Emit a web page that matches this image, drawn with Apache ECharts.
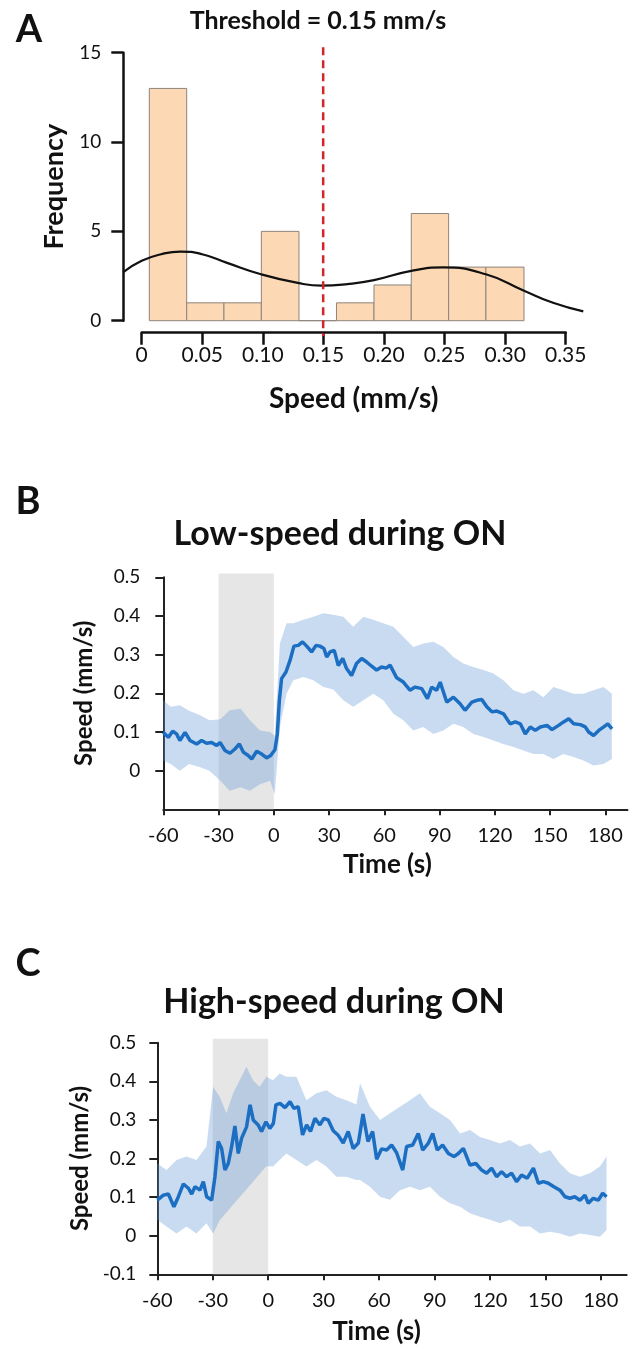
<!DOCTYPE html>
<html>
<head>
<meta charset="utf-8">
<script src="https://cdn.jsdelivr.net/npm/echarts/dist/echarts.min.js"></script>
<style>
  html, body { margin: 0; padding: 0; background: #fff; }
  #chart { width: 629px; height: 1353px; }
</style>
</head>
<body>
<div id="chart"></div>
<script>
// ---- panel A: speed histogram ----
const binEdges = [0.0063, 0.0372, 0.068, 0.0989, 0.130, 0.161, 0.192, 0.2228, 0.2537, 0.2845, 0.316];
const binCounts = [13, 1, 1, 5, 0, 1, 2, 6, 3, 3];
const curveX = [-0.0152, 0, 0.016, 0.032, 0.05, 0.07, 0.0986, 0.13, 0.149, 0.17, 0.192, 0.2228, 0.249, 0.2845, 0.316, 0.34, 0.365];
const curveY = [2.72, 3.35, 3.72, 3.87, 3.72, 3.25, 2.6, 2.1, 1.96, 2.05, 2.27, 2.79, 2.98, 2.6, 1.68, 1.0, 0.52];
const thresholdX = 0.15;
const thresholdYs = [15.3, -0.85];
const speedTicks = [0, 0.05, 0.10, 0.15, 0.20, 0.25, 0.30, 0.35];
const speedTickLabels = ['0', '0.05', '0.10', '0.15', '0.20', '0.25', '0.30', '0.35'];

// ---- panels B / C: time courses ----
const timeTicks = [-60, -30, 0, 30, 60, 90, 120, 150, 180];
const lowSpeedTicks = [0, 0.1, 0.2, 0.3, 0.4, 0.5];
const shadeRange = [-30, 0];
const shadeTop = 0.51;

const lowTime = [-60,-57.3,-54.9,-52.8,-51,-48.2,-45.5,-41.9,-39.2,-36.5,-33.8,-31,-29.2,-26.5,-23.8,-21.1,-18.7,-16.6,-13.9,-12,-9.3,-6.6,-3.9,-1.7,0.6,1.9,3,4.2,6.6,8.8,10.9,13.3,15.6,18.2,20.5,22.9,25,27.2,28.7,30.5,32.8,35,37.4,39.5,42.2,44.9,47.7,50.4,53.1,55.8,58.5,61,63.1,66.7,70.3,73.9,76.7,80.3,83.4,85.7,88.4,90.3,93.9,97.5,101.1,103.8,107.5,110.2,112.9,115.6,118.4,121.1,124.7,128.3,131.1,133.8,136.5,139.2,141.9,144.7,148.3,151,154.6,157.3,160.1,162.8,166.4,169.1,170.9,173.6,176.4,179.1,181.3,183.6];
const lowMean = [0.099,0.086,0.102,0.095,0.078,0.099,0.078,0.069,0.078,0.071,0.073,0.065,0.073,0.052,0.045,0.056,0.069,0.048,0.039,0.030,0.050,0.043,0.033,0.039,0.054,0.095,0.181,0.238,0.255,0.285,0.322,0.324,0.333,0.320,0.307,0.324,0.322,0.316,0.294,0.307,0.311,0.272,0.290,0.264,0.246,0.277,0.290,0.281,0.270,0.260,0.268,0.265,0.273,0.240,0.229,0.208,0.216,0.212,0.186,0.216,0.208,0.229,0.177,0.190,0.173,0.156,0.177,0.182,0.184,0.165,0.152,0.154,0.147,0.121,0.126,0.121,0.095,0.113,0.104,0.113,0.117,0.106,0.117,0.126,0.134,0.121,0.119,0.113,0.100,0.091,0.104,0.113,0.121,0.108];
const lowBandTime = [-60,-56,-51,-46,-40,-35,-29,-24,-18,-13,-7.5,-2,0.5,3.3,6.9,10.6,16,21.4,26.9,32.3,37.7,43.1,48.6,54,59.4,64.9,70.3,75.7,81.2,86.6,92,97.5,102.9,108.3,113.8,119.2,124.6,130.1,135.5,140.9,146.4,151.8,157.2,162.7,168.1,173.5,179,183.5];
const lowBandUpper = [0.182,0.165,0.169,0.155,0.143,0.130,0.133,0.156,0.160,0.130,0.104,0.100,0.090,0.329,0.381,0.381,0.390,0.398,0.407,0.403,0.398,0.372,0.398,0.390,0.381,0.372,0.346,0.320,0.329,0.333,0.320,0.294,0.277,0.268,0.260,0.251,0.234,0.208,0.199,0.208,0.190,0.216,0.208,0.199,0.199,0.208,0.216,0.199];
const lowBandLower = [0.026,0.017,0,0.017,0.009,0,-0.026,-0.052,-0.043,-0.052,-0.035,-0.026,-0.061,0.113,0.199,0.234,0.242,0.234,0.216,0.210,0.182,0.165,0.182,0.199,0.182,0.147,0.130,0.104,0.113,0.095,0.104,0.121,0.113,0.095,0.087,0.078,0.069,0.061,0.052,0.043,0.043,0.030,0.043,0.035,0.026,0.013,0.017,0.030];

const highTime = [-60,-56.7,-54,-51,-48.6,-45.9,-43.2,-41.4,-39.6,-36.9,-35.1,-33.3,-30.6,-28.8,-27,-25.2,-23.4,-21.6,-19.8,-18,-16.2,-14.4,-11.7,-9.8,-8.1,-5.4,-3.6,-1.2,0.9,2.8,4.2,6.4,9.1,11.8,13.9,16.3,18.6,20.8,22.9,25.3,28,30.1,32.5,35.2,37.9,40.6,43.3,46,48.8,51.3,54,56.5,58.7,61.4,64.1,66.8,69.5,72.8,74.9,78.2,81.2,83.6,86.6,89,91.5,94.4,97.5,100.5,102.9,105.6,109.2,112.4,115.5,118.2,120.9,123.6,126.3,129,131.7,134.4,137.1,140.2,143.5,146.2,148.9,151.6,154.6,157.9,160.6,163.3,165.9,168.7,171.4,173.2,175.9,178.6,181,183.1];
const highMean = [0.092,0.105,0.108,0.075,0.101,0.134,0.123,0.108,0.127,0.118,0.140,0.101,0.092,0.153,0.244,0.226,0.170,0.187,0.230,0.284,0.213,0.252,0.282,0.339,0.300,0.287,0.270,0.295,0.278,0.291,0.339,0.343,0.332,0.347,0.330,0.334,0.261,0.287,0.270,0.304,0.287,0.304,0.300,0.272,0.260,0.240,0.270,0.226,0.240,0.315,0.244,0.270,0.198,0.225,0.222,0.235,0.215,0.170,0.231,0.235,0.265,0.222,0.239,0.265,0.222,0.235,0.213,0.205,0.213,0.226,0.183,0.187,0.170,0.162,0.175,0.153,0.166,0.153,0.162,0.140,0.157,0.149,0.175,0.136,0.140,0.136,0.127,0.118,0.101,0.097,0.101,0.092,0.105,0.084,0.097,0.092,0.110,0.101];
const highBandTime = [-60,-55,-49.6,-44.2,-38.8,-33.4,-29.8,-26.2,-22.6,-19,-15.4,-11.8,-8.2,-4.6,-1,2.6,6.2,9.8,15.3,20.7,26.1,31.5,36.9,42.3,47.7,49.7,55.1,60.5,65.9,71.3,76.7,82.1,87.5,93,98.4,103.8,109.2,114.6,120,125.4,130.8,136.2,141.7,147.1,152.5,157.9,163.3,168.7,174.1,179.5,183.1];
const highBandUpper = [0.187,0.170,0.196,0.205,0.196,0.231,0.386,0.360,0.317,0.369,0.403,0.438,0.403,0.386,0.412,0.403,0.420,0.412,0.412,0.351,0.369,0.377,0.360,0.351,0.340,0.395,0.334,0.300,0.317,0.334,0.351,0.369,0.334,0.317,0.300,0.265,0.274,0.256,0.248,0.239,0.248,0.231,0.239,0.213,0.222,0.187,0.162,0.153,0.162,0.179,0.205];
const highBandLower = [0.041,0.024,0.006,0.024,0.006,0.032,0.006,0.040,0.060,0.080,0.100,0.120,0.140,0.160,0.180,0.179,0.196,0.213,0.196,0.179,0.196,0.179,0.153,0.153,0.144,0.144,0.127,0.101,0.093,0.118,0.127,0.118,0.127,0.101,0.084,0.075,0.058,0.049,0.041,0.032,0.041,0.024,0.024,0.006,0.010,0.006,-0.003,0.006,0.002,-0.003,0.015];

const FONT = 'Lato';
const INK = '#111';
const zip = (xs, ys) => xs.map((x, i) => [x, ys[i]]);

const chart = echarts.init(document.getElementById('chart'), null, { renderer: 'canvas' });

// shaded "ON" window, drawn through the axes
const shadeSeries = (axisIndex, yMin) => ({
    type: 'custom',
    xAxisIndex: axisIndex, yAxisIndex: axisIndex,
    silent: true, z: 1,
    data: [[shadeRange[0], shadeRange[1]]],
    encode: { x: [0, 1] },
    renderItem: (params, api) => {
        const p0 = api.coord([api.value(0), shadeTop]);
        const p1 = api.coord([api.value(1), yMin]);
        return {
            type: 'rect',
            shape: { x: p0[0], y: p0[1], width: p1[0] - p0[0], height: p1[1] - p0[1] },
            style: { fill: '#e6e6e6' }
        };
    }
});

// mean +/- error band as one polygon
const bandSeries = (axisIndex, times, upper, lower) => ({
    type: 'custom',
    xAxisIndex: axisIndex, yAxisIndex: axisIndex,
    silent: true, z: 2,
    data: [[times[0], lower[0]]],
    renderItem: (params, api) => {
        const pts = [];
        times.forEach((t, i) => pts.push(api.coord([t, upper[i]])));
        for (let i = times.length - 1; i >= 0; i--) pts.push(api.coord([times[i], lower[i]]));
        return {
            type: 'polygon',
            shape: { points: pts },
            style: { fill: 'rgba(105,155,215,0.36)' }
        };
    }
});

const meanSeries = (axisIndex, data) => ({
    type: 'line',
    xAxisIndex: axisIndex, yAxisIndex: axisIndex,
    data: data, showSymbol: false, z: 3, silent: true,
    lineStyle: { color: '#1b6ec2', width: 3.5 }
});

const timeXAxis = (gridIndex, max, namePad, nameGap) => ({
    type: 'value', gridIndex, min: -60, max,
    axisLine: { onZero: false, lineStyle: { color: '#222', width: 2 } },
    axisTick: { length: 6, lineStyle: { color: '#222', width: 2 }, customValues: timeTicks },
    axisLabel: { customValues: timeTicks, margin: 16, fontSize: 20, fontFamily: FONT, color: INK },
    splitLine: { show: false },
    name: 'Time (s)', nameLocation: 'middle', nameGap,
    nameTextStyle: { fontSize: 26, fontWeight: 'bold', fontFamily: FONT, color: INK, padding: [0, namePad, 0, 0] }
});

const speedYAxis = (gridIndex, ticks, nameGap, margin) => Object.assign({
    type: 'value', gridIndex, min: -0.1, max: 0.5,
    axisLine: { show: true, onZero: false, lineStyle: { color: '#222', width: 2 } },
    axisTick: { show: true, length: 8, lineStyle: { color: '#222', width: 2 } },
    axisLabel: { margin, fontSize: 19, fontFamily: FONT, color: INK },
    splitLine: { show: false },
    name: 'Speed (mm/s)', nameLocation: 'middle', nameGap,
    nameTextStyle: { fontSize: 24, fontWeight: 'bold', fontFamily: FONT, color: INK }
}, ticks ? {
    axisTick: { show: true, length: 8, lineStyle: { color: '#222', width: 2 }, customValues: ticks },
    axisLabel: { margin, fontSize: 19, fontFamily: FONT, color: INK, customValues: ticks }
} : { interval: 0.1 });

const option = {
    backgroundColor: '#fff',
    animation: false,
    grid: [
        { left: 123.3, top: 52.7, width: 460, height: 268 },
        { left: 141.7, top: 331.7, width: 424, height: 1 },
        { left: 163.3, top: 577.3, width: 464.2, height: 232 },
        { left: 157.3, top: 1042.7, width: 469.4, height: 231.6 }
    ],
    xAxis: [
        { type: 'value', gridIndex: 0, min: -0.0152, max: 0.365, show: false },
        {
            type: 'value', gridIndex: 1, min: 0, max: 0.35,
            axisLine: { onZero: false, lineStyle: { color: '#111', width: 2.5 } },
            axisTick: { length: 12, lineStyle: { color: '#111', width: 2.5 }, customValues: speedTicks },
            axisLabel: {
                customValues: speedTicks, margin: 12, fontSize: 21, fontFamily: FONT, color: INK,
                formatter: v => speedTickLabels[speedTicks.findIndex(t => Math.abs(t - v) < 1e-6)] || ''
            },
            splitLine: { show: false },
            name: 'Speed (mm/s)', nameLocation: 'middle', nameGap: 52,
            nameTextStyle: { fontSize: 28, fontWeight: 'bold', fontFamily: FONT, color: INK }
        },
        timeXAxis(2, 192, 16, 42),
        timeXAxis(3, 194, 31, 44)
    ],
    yAxis: [
        {
            type: 'value', gridIndex: 0, min: 0, max: 15, interval: 5,
            axisLine: { show: true, onZero: false, lineStyle: { color: '#111', width: 2.5 } },
            axisTick: { show: true, length: 12, lineStyle: { color: '#111', width: 2.5 } },
            axisLabel: { margin: 22, fontSize: 19, fontFamily: FONT, color: INK },
            splitLine: { show: false },
            name: 'Frequency', nameLocation: 'middle', nameGap: 56,
            nameTextStyle: { fontSize: 27, fontWeight: 'bold', fontFamily: FONT, color: INK }
        },
        { type: 'value', gridIndex: 1, min: 0, max: 1, show: false },
        speedYAxis(2, lowSpeedTicks, 67, 23),
        speedYAxis(3, null, 65, 21)
    ],
    graphic: [
        { type: 'text', x: 29, y: 30, style: { text: 'A', font: 'bold 38px Lato', fill: INK, align: 'center', verticalAlign: 'middle', textAlign: 'center', textVerticalAlign: 'middle' } },
        { type: 'text', x: 318, y: 21, style: { text: 'Threshold = 0.15 mm/s', font: 'bold 25px Lato', fill: INK, align: 'center', verticalAlign: 'middle', textAlign: 'center', textVerticalAlign: 'middle' } },
        { type: 'text', x: 28, y: 502, style: { text: 'B', font: 'bold 38px Lato', fill: INK, align: 'center', verticalAlign: 'middle', textAlign: 'center', textVerticalAlign: 'middle' } },
        { type: 'text', x: 340, y: 534, style: { text: 'Low-speed during ON', font: 'bold 34px Lato', fill: INK, align: 'center', verticalAlign: 'middle', textAlign: 'center', textVerticalAlign: 'middle' } },
        { type: 'text', x: 28, y: 964, style: { text: 'C', font: 'bold 38px Lato', fill: INK, align: 'center', verticalAlign: 'middle', textAlign: 'center', textVerticalAlign: 'middle' } },
        { type: 'text', x: 334, y: 1002, style: { text: 'High-speed during ON', font: 'bold 34px Lato', fill: INK, align: 'center', verticalAlign: 'middle', textAlign: 'center', textVerticalAlign: 'middle' } }
    ],
    series: [
        {
            type: 'custom', xAxisIndex: 0, yAxisIndex: 0, silent: true, z: 1,
            data: binCounts.map((c, i) => [binEdges[i], binEdges[i + 1], c]),
            encode: { x: [0, 1], y: 2 },
            renderItem: (params, api) => {
                const p0 = api.coord([api.value(0), api.value(2)]);
                const p1 = api.coord([api.value(1), 0]);
                return {
                    type: 'rect',
                    shape: { x: p0[0], y: p0[1], width: p1[0] - p0[0], height: p1[1] - p0[1] },
                    style: { fill: '#fcd8b4', stroke: '#8f847b', lineWidth: 1 }
                };
            }
        },
        {
            type: 'line', xAxisIndex: 0, yAxisIndex: 0, z: 3, silent: true,
            data: zip(curveX, curveY), smooth: 0.5, showSymbol: false,
            lineStyle: { color: '#111', width: 2.2 }
        },
        {
            type: 'line', xAxisIndex: 0, yAxisIndex: 0, z: 4, silent: true, clip: false,
            data: thresholdYs.map(y => [thresholdX, y]), showSymbol: false,
            lineStyle: { color: '#d3232b', width: 2.5, type: [8, 5] }
        },
        shadeSeries(2, -0.1),
        bandSeries(2, lowBandTime, lowBandUpper, lowBandLower),
        meanSeries(2, zip(lowTime, lowMean)),
        shadeSeries(3, -0.1),
        bandSeries(3, highBandTime, highBandUpper, highBandLower),
        meanSeries(3, zip(highTime, highMean))
    ]
};

chart.setOption(option);
</script>
</body>
</html>
